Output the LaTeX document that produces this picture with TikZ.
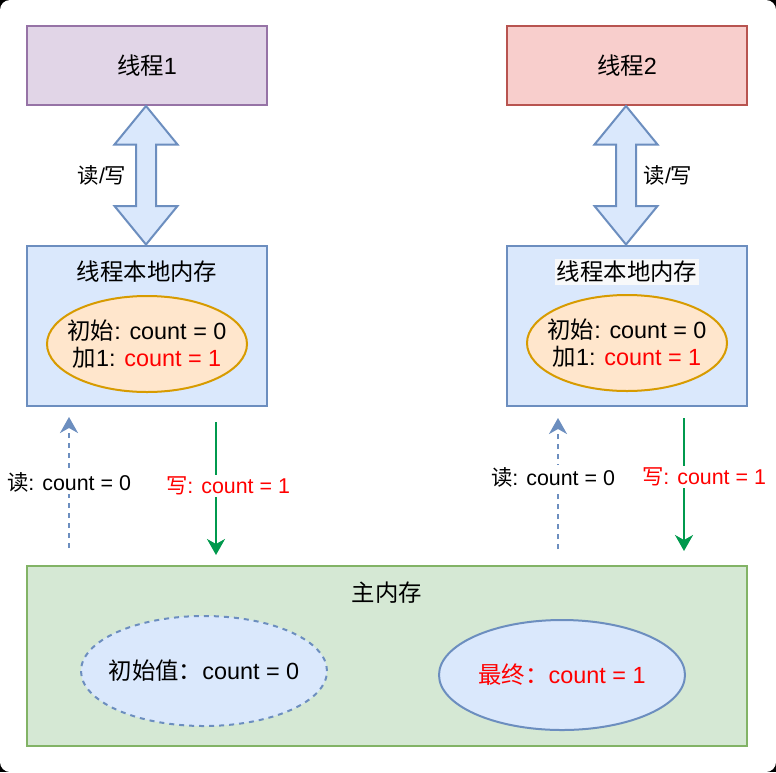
\documentclass[tikz,border=0pt]{standalone}
\usepackage{fontspec}
\setmainfont{Liberation Sans}
\newfontfamily\cjk{Noto Sans CJK SC}
\usetikzlibrary{positioning,shapes.geometric,arrows.meta}
\definecolor{purplefill}{HTML}{E1D5E7}
\definecolor{purpleline}{HTML}{9673A6}
\definecolor{redfill}{HTML}{F8CECC}
\definecolor{redline}{HTML}{B85450}
\definecolor{bluefill}{HTML}{DAE8FC}
\definecolor{blueline}{HTML}{6C8EBF}
\definecolor{orangefill}{HTML}{FFE6CC}
\definecolor{orangeline}{HTML}{D79B00}
\definecolor{greenfill}{HTML}{D5E8D4}
\definecolor{greenline}{HTML}{82B366}
\definecolor{writegreen}{HTML}{00994D}
\definecolor{textred}{HTML}{FF0000}
\definecolor{labelbg}{HTML}{F8F9FA}
\newcommand{\zh}[1]{{\cjk #1}}
\begin{document}
\begin{tikzpicture}[x=0.5pt, y=-0.5pt, line width=1pt,
    font=\fontsize{11.7}{13.5}\selectfont]
    \tikzset{threadbox/.style={draw, minimum width=120pt, minimum height=39.5pt, inner sep=0pt},
      localbox/.style={draw=blueline, fill=bluefill, minimum width=120pt, minimum height=80pt, inner sep=0pt},
      valnode/.style={ellipse, draw=orangeline, fill=orangefill, minimum width=100pt, minimum height=48pt, inner xsep=-8pt, inner ysep=0pt, align=center},
      mainval/.style={ellipse, draw=blueline, fill=bluefill, minimum width=123pt, minimum height=55pt, inner xsep=-8pt, inner ysep=0pt},
      elabel/.style={fill=white, inner sep=1pt, font=\fontsize{10.7}{12}\selectfont},
      readarrow/.style={draw=blueline, dash pattern=on 2.5pt off 2.5pt, -{Stealth[length=8pt, width=9pt, inset=2.5pt]}},
      writearrow/.style={draw=writegreen, -{Stealth[length=8pt, width=9pt, inset=2.5pt]}},
      rwarrow/.style={draw=blueline, fill=bluefill},
      rw/.pic={\path[rwarrow] (0,0) -- (-31.5,38.5) -- (-10,38.5) -- (-10,100) -- (-31.5,100) -- (0,138.5)
        -- (31.5,100) -- (10,100) -- (10,38.5) -- (31.5,38.5) -- cycle;}};
    % page
    \useasboundingbox (0,0) rectangle (776,772);
    \fill[black] (0,0) rectangle (776,772);
    \fill[white, rounded corners=5pt] (0,0) rectangle (776,772);
    % threads
    \node[threadbox, draw=purpleline, fill=purplefill] (t1) at (147,65.5) {\zh{线程}1};
    \node[threadbox, draw=redline, fill=redfill] (t2) at (627,65.5) {\zh{线程}2};
    % local memory
    \node[localbox] (l1) at (147,326) {};
    \node[localbox] (l2) at (627,326) {};
    \node (l1title) at (147,272) {\zh{线程本地内存}};
    \node[fill=labelbg, inner sep=1pt] (l2title) at (627,272) {\zh{线程本地内存}};
    \node[valnode] (v1) at (147,344) {\zh{初始}: count = 0\\\zh{加}1: \textcolor{textred}{count = 1}};
    \node[valnode] (v2) at (627,343) {\zh{初始}: count = 0\\\zh{加}1: \textcolor{textred}{count = 1}};
    % read / write between thread and local memory
    \pic at (146,106) {rw};
    \pic at (626,106) {rw};
    \node[elabel, fill=none] (rw1) at (102,175) {\zh{读}/\zh{写}};
    \node[elabel, fill=none] (rw2) at (668,175) {\zh{读}/\zh{写}};
    % main memory
    \node[draw=greenline, fill=greenfill, minimum width=360pt, minimum height=90pt, inner sep=0pt] (mem) at (387,656) {};
    \node (memtitle) at (387,593) {\zh{主内存}};
    \node[mainval, dash pattern=on 2.5pt off 2.5pt] (m0) at (204,671) {\zh{初始值：}count = 0};
    \node[mainval, text=textred] (m1) at (562,675) {\zh{最终：}count = 1};
    % transfers
    \coordinate (r1s) at (69,548);  \coordinate (r1e) at (69,417);
    \coordinate (w1s) at (216,422); \coordinate (w1e) at (216,555);
    \coordinate (r2s) at (558,549); \coordinate (r2e) at (558,418);
    \coordinate (w2s) at (684,418); \coordinate (w2e) at (684,551);
    \draw[readarrow] (r1s) -- (r1e) node[midway, elabel, text=black] {\zh{读}: count = 0};
    \draw[writearrow] (w1s) -- (w1e) node[midway, elabel, text=textred, xshift=6pt, yshift=1.25pt] {\zh{写}: count = 1};
    \draw[readarrow] (r2s) -- (r2e) node[midway, elabel, text=black, xshift=-2.5pt, yshift=3.25pt] {\zh{读}: count = 0};
    \draw[writearrow] (w2s) -- (w2e) node[midway, elabel, text=textred, xshift=10pt, yshift=3.75pt] {\zh{写}: count = 1};
\end{tikzpicture}
\end{document}
